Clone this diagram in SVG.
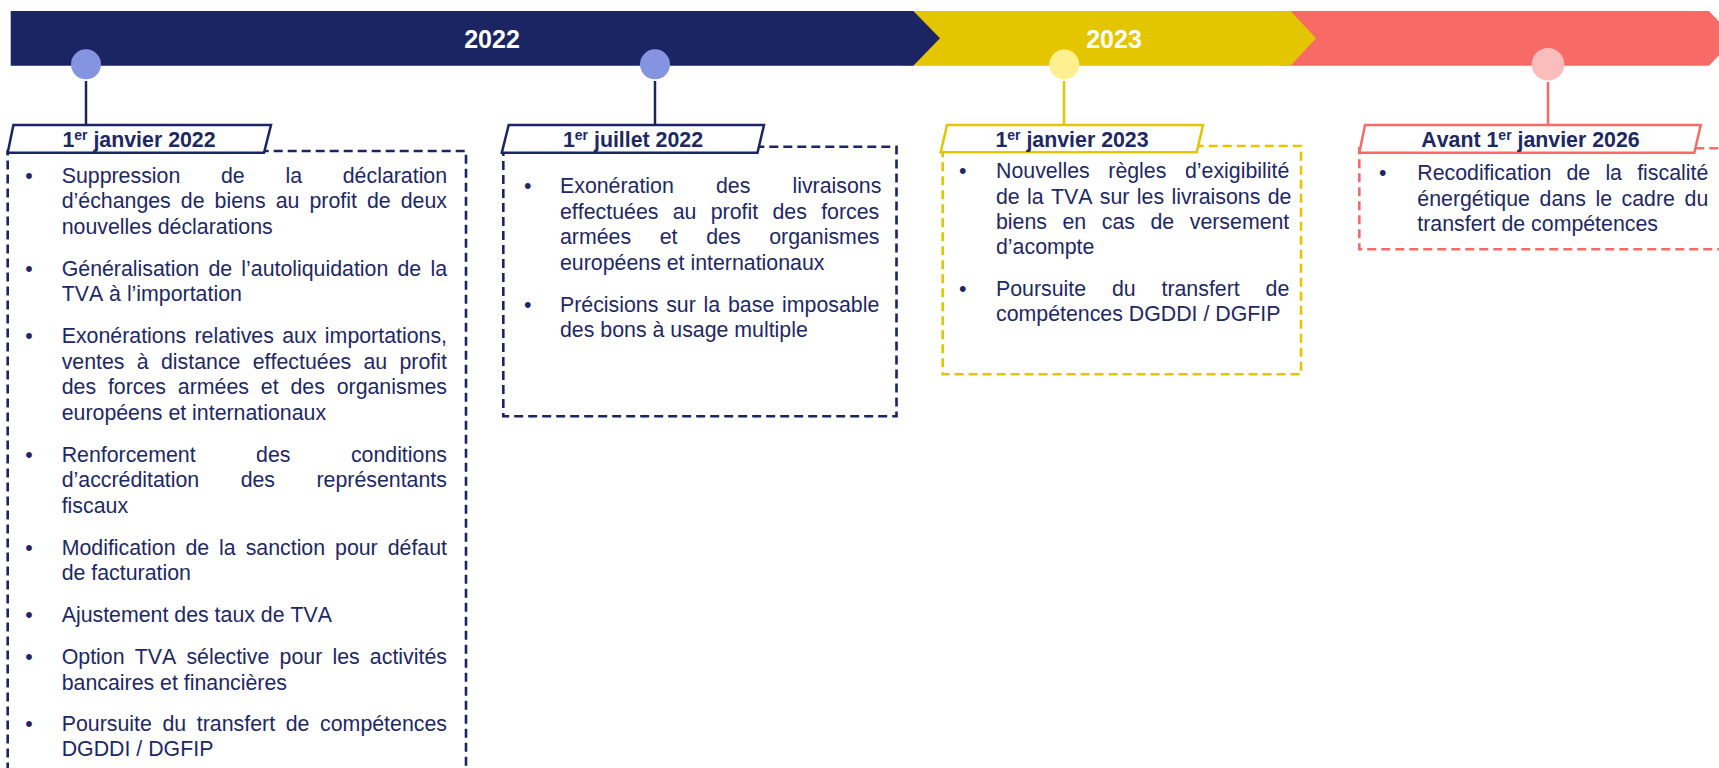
<svg xmlns="http://www.w3.org/2000/svg" width="1719" height="768" viewBox="0 0 1719 768">
<style>
.body{font-family:"Liberation Sans",Arial,sans-serif;font-size:21.33px;fill:#1E2865;font-kerning:none}
.lbl{font-family:"Liberation Sans",Arial,sans-serif;font-size:21.33px;font-weight:bold;fill:#1E2865;text-anchor:middle;font-kerning:none}
.sup{font-size:14px}
.yr{font-family:"Liberation Sans",Arial,sans-serif;font-size:25px;font-weight:bold;fill:#FFFFFF;text-anchor:middle}
.bul{text-anchor:middle}
.navy{stroke:#1B2563}
.gold{stroke:#E3C600}
.coral{stroke:#F86A66}
.dash{fill:none;stroke-width:2.6;stroke-dasharray:9 5}
.tag{fill:#FFFFFF;stroke-width:2.5}
.conn{stroke-width:2.5;fill:none}
</style>
<rect width="1719" height="768" fill="#FFFFFF"/>
<g id="banner">
<polygon points="1280,11 1709,11 1735,38.3 1709,65.7 1280,65.7" fill="#F86A66"/>
<polygon points="900,11 1290.5,11 1316,38.3 1290.5,65.7 900,65.7" fill="#E3C600"/>
<polygon points="10.7,11 913.3,11 940,38.3 913.3,65.7 10.7,65.7" fill="#1B2563"/>
<text class="yr" x="492" y="48">2022</text>
<text class="yr" x="1114" y="48">2023</text>
</g>
<g id="connectors">
<line class="conn navy" x1="86" y1="81" x2="86" y2="125"/>
<line class="conn navy" x1="655" y1="81" x2="655" y2="125"/>
<line class="conn gold" x1="1064" y1="81" x2="1064" y2="125"/>
<line class="conn coral" x1="1548" y1="82" x2="1548" y2="125"/>
</g>
<g id="node-2022-01">
<circle cx="86" cy="64.3" r="15" fill="#8594E0"/>
<rect class="dash navy" x="7.7" y="151" width="458.3" height="650"/>
<polygon class="tag navy" points="13.4,125 271,125 264,152.7 7.7,152.7"/>
<text class="lbl" x="139" y="146.5">1<tspan class="sup" dy="-7">er</tspan><tspan dy="7"> janvier 2022</tspan></text>
<g class="body">
<text class="bul" x="29" y="182.7">•</text>
<text x="61.7" y="182.7" word-spacing="34.8">Suppression de la déclaration</text>
<text x="61.7" y="208.2" word-spacing="4.13">d’échanges de biens au profit de deux</text>
<text x="61.7" y="233.7">nouvelles déclarations</text>
<text class="bul" x="29" y="275.7">•</text>
<text x="61.7" y="275.7" word-spacing="3.25">Généralisation de l’autoliquidation de la</text>
<text x="61.7" y="301.2">TVA à l’importation</text>
<text class="bul" x="29" y="343.2">•</text>
<text x="61.7" y="343.2" word-spacing="2.37">Exonérations relatives aux importations,</text>
<text x="61.7" y="368.7" word-spacing="6.38">ventes à distance effectuées au profit</text>
<text x="61.7" y="394.2" word-spacing="5.92">des forces armées et des organismes</text>
<text x="61.7" y="419.7">européens et internationaux</text>
<text class="bul" x="29" y="461.7">•</text>
<text x="61.7" y="461.7" word-spacing="54.5">Renforcement des conditions</text>
<text x="61.7" y="487.2" word-spacing="35.5">d’accréditation des représentants</text>
<text x="61.7" y="512.7">fiscaux</text>
<text class="bul" x="29" y="554.7">•</text>
<text x="61.7" y="554.7" word-spacing="4.02">Modification de la sanction pour défaut</text>
<text x="61.7" y="580.2">de facturation</text>
<text class="bul" x="29" y="622.2">•</text>
<text x="61.7" y="622.2">Ajustement des taux de TVA</text>
<text class="bul" x="29" y="664.2">•</text>
<text x="61.7" y="664.2" word-spacing="4.26">Option TVA sélective pour les activités</text>
<text x="61.7" y="689.7">bancaires et financières</text>
<text class="bul" x="29" y="731.2">•</text>
<text x="61.7" y="731.2" word-spacing="4.73">Poursuite du transfert de compétences</text>
<text x="61.7" y="756.2">DGDDI / DGFIP</text>
</g>
</g>
<g id="node-2022-07">
<circle cx="655" cy="64.3" r="15" fill="#8594E0"/>
<rect class="dash navy" x="503.3" y="146.7" width="393.2" height="269.5"/>
<polygon class="tag navy" points="508.7,125 764,125 757.5,152.7 501.8,152.7"/>
<text class="lbl" x="633" y="146.5">1<tspan class="sup" dy="-7">er</tspan><tspan dy="7"> juillet 2022</tspan></text>
<g class="body">
<text class="bul" x="527.7" y="193.3">•</text>
<text x="560" y="193.3" word-spacing="36.2">Exonération des livraisons</text>
<text x="560" y="218.8" word-spacing="8.38">effectuées au profit des forces</text>
<text x="560" y="244.3" word-spacing="22.7">armées et des organismes</text>
<text x="560" y="269.8">européens et internationaux</text>
<text class="bul" x="527.7" y="311.8">•</text>
<text x="560" y="311.8" word-spacing="1.87">Précisions sur la base imposable</text>
<text x="560" y="337.3">des bons à usage multiple</text>
</g>
</g>
<g id="node-2023-01">
<circle cx="1064.3" cy="64.5" r="15" fill="#FFF08F"/>
<rect class="dash gold" x="942.7" y="146" width="358.3" height="228.3"/>
<polygon class="tag gold" points="947,125 1203,125 1196.7,152.2 940.7,152.2"/>
<text class="lbl" x="1072" y="146.5">1<tspan class="sup" dy="-7">er</tspan><tspan dy="7"> janvier 2023</tspan></text>
<g class="body">
<text class="bul" x="962.7" y="178.3">•</text>
<text x="996" y="178.3" word-spacing="12.7">Nouvelles règles d’exigibilité</text>
<text x="996" y="203.6" word-spacing="1.42">de la TVA sur les livraisons de</text>
<text x="996" y="228.9" word-spacing="9.6">biens en cas de versement</text>
<text x="996" y="254.2">d’acompte</text>
<text class="bul" x="962.7" y="295.9">•</text>
<text x="996" y="295.9" word-spacing="19.9">Poursuite du transfert de</text>
<text x="996" y="321.2">compétences DGDDI / DGFIP</text>
</g>
</g>
<g id="node-2026">
<circle cx="1548" cy="64.3" r="16.3" fill="#FBBDBB"/>
<rect class="dash coral" x="1359.3" y="148.3" width="420" height="101"/>
<polygon class="tag coral" points="1365,125 1700.7,125 1694.3,152.7 1359.3,152.7"/>
<text class="lbl" x="1530.5" y="146.5">Avant 1<tspan class="sup" dy="-7">er</tspan><tspan dy="7"> janvier 2026</tspan></text>
<g class="body">
<text class="bul" x="1382.7" y="180">•</text>
<text x="1417.3" y="180" word-spacing="9.27">Recodification de la fiscalité</text>
<text x="1417.3" y="205.5" word-spacing="3.67">énergétique dans le cadre du</text>
<text x="1417.3" y="231">transfert de compétences</text>
</g>
</g>
</svg>
